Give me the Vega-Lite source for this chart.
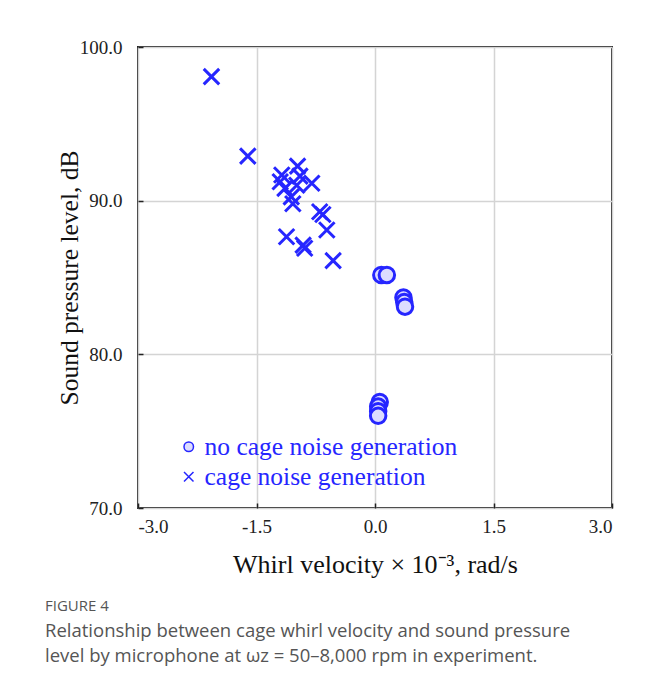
{
  "$schema": "https://vega.github.io/schema/vega-lite/v6.json",
  "width": 474,
  "height": 461,
  "autosize": {"type": "none"},
  "padding": {"left": 138, "top": 47, "right": 44, "bottom": 180},
  "background": "white",
  "title": {
    "text": "FIGURE 4",
    "subtitle": ["Relationship between cage whirl velocity and sound pressure", "level by microphone at ωz = 50–8,000 rpm in experiment."],
    "orient": "bottom",
    "anchor": "start",
    "frame": "group",
    "dx": -93,
    "offset": 22,
    "font": "Open Sans",
    "fontSize": 15,
    "fontWeight": "normal",
    "color": "#555555",
    "subtitleFont": "Open Sans",
    "subtitleFontSize": 18.5,
    "subtitleColor": "#555555",
    "subtitleLineHeight": 25,
    "subtitlePadding": 8
  },
  "data": {
    "values": [
      {"type": "cage noise generation", "w": -2.07, "spl": 98.07},
      {"type": "cage noise generation", "w": -1.61, "spl": 92.9},
      {"type": "cage noise generation", "w": -0.98, "spl": 92.25},
      {"type": "cage noise generation", "w": -1.18, "spl": 91.67},
      {"type": "cage noise generation", "w": -0.95, "spl": 91.6},
      {"type": "cage noise generation", "w": -0.8, "spl": 91.13},
      {"type": "cage noise generation", "w": -1.2, "spl": 91.23},
      {"type": "cage noise generation", "w": -0.99, "spl": 91.0},
      {"type": "cage noise generation", "w": -1.14, "spl": 90.8},
      {"type": "cage noise generation", "w": -1.06, "spl": 90.25},
      {"type": "cage noise generation", "w": -1.04, "spl": 89.8},
      {"type": "cage noise generation", "w": -0.7, "spl": 89.28},
      {"type": "cage noise generation", "w": -0.66, "spl": 89.1},
      {"type": "cage noise generation", "w": -0.61, "spl": 88.09},
      {"type": "cage noise generation", "w": -1.12, "spl": 87.65},
      {"type": "cage noise generation", "w": -0.91, "spl": 87.11},
      {"type": "cage noise generation", "w": -0.89, "spl": 86.9},
      {"type": "cage noise generation", "w": -0.53, "spl": 86.1},
      {"type": "no cage noise generation", "w": 0.08, "spl": 85.16},
      {"type": "no cage noise generation", "w": 0.15, "spl": 85.16},
      {"type": "no cage noise generation", "w": 0.36, "spl": 83.7},
      {"type": "no cage noise generation", "w": 0.37, "spl": 83.4},
      {"type": "no cage noise generation", "w": 0.38, "spl": 83.1},
      {"type": "no cage noise generation", "w": 0.06, "spl": 76.9},
      {"type": "no cage noise generation", "w": 0.04, "spl": 76.6},
      {"type": "no cage noise generation", "w": 0.04, "spl": 76.3},
      {"type": "no cage noise generation", "w": 0.04, "spl": 76.0}
    ]
  },
  "mark": {"type": "point", "filled": false, "fill": "#dcdcff", "fillOpacity": 1, "stroke": "#2626ff", "strokeWidth": 3, "opacity": 1, "size": 240},
  "encoding": {
    "x": {
      "field": "w", "type": "quantitative",
      "scale": {"domain": [-3, 3], "nice": false},
      "axis": {
        "values": [-3, -1.5, 0, 1.5, 3],
        "labelExpr": "(datum.value < 0 ? '-' : '') + format(abs(datum.value), '.1f')",
        "title": "Whirl velocity × 10⁻³, rad/s",
        "titleFontSize": 26,
        "titlePadding": 15,
        "labelPadding": 14
      }
    },
    "y": {
      "field": "spl", "type": "quantitative",
      "scale": {"domain": [70, 100], "nice": false},
      "axis": {
        "values": [70, 80, 90, 100],
        "format": ".1f",
        "title": "Sound pressure level, dB",
        "titleFontSize": 25.5,
        "titlePadding": -3,
        "labelPadding": 21
      }
    },
    "shape": {
      "field": "type", "type": "nominal",
      "scale": {"domain": ["no cage noise generation", "cage noise generation"], "range": ["circle", "M-1,-1L1,1M-1,1L1,-1"]},
      "legend": {
        "title": null,
        "orient": "none",
        "legendX": 38,
        "legendY": 387,
        "labelFont": "Liberation Serif",
        "labelFontSize": 25.5,
        "labelColor": "#2626ff",
        "labelLimit": 400,
        "symbolSize": 90,
        "symbolFillColor": "white",
        "rowPadding": 3,
        "labelOffset": 3,
        "padding": 0,
        "encode": {
          "symbols": {
            "update": {
              "stroke": {"value": "#2626ff"},
              "strokeWidth": {"value": 1.5},
              "fill": {"value": "white"}
            }
          }
        }
      }
    }
  },
  "config": {
    "font": "Liberation Serif",
    "view": {"stroke": "#222222", "strokeWidth": 2},
    "axis": {
      "labelFont": "Liberation Serif",
      "titleFont": "Liberation Serif",
      "labelFontSize": 19,
      "labelColor": "#222222",
      "titleColor": "#111111",
      "titleFontWeight": "normal",
      "domain": false,
      "grid": true,
      "gridColor": "#d4d4d4",
      "gridWidth": 1.5,
      "ticks": true,
      "tickSize": -5,
      "tickColor": "#222222",
      "tickWidth": 1.5
    }
  }
}
